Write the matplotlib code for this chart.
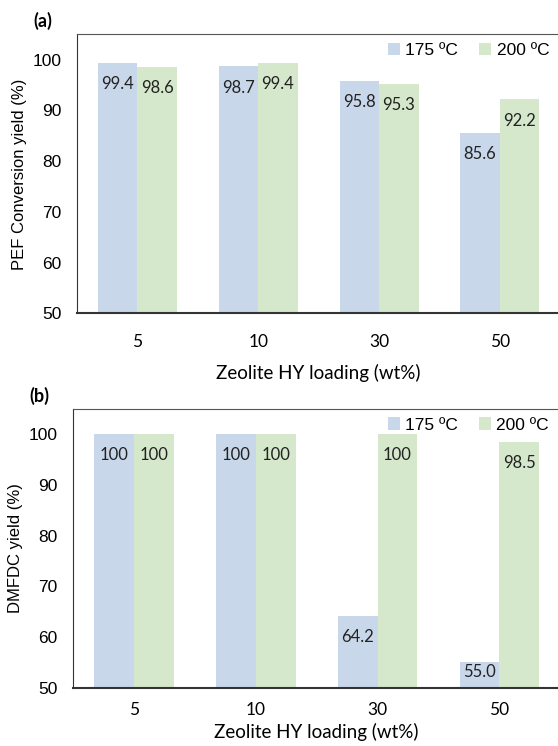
import numpy as np
import matplotlib.pyplot as plt

loadings = ['5', '10', '30', '50']
conv_175 = [99.4, 98.7, 95.8, 85.6]
conv_200 = [98.6, 99.4, 95.3, 92.2]
dmfdc_175 = [100, 100, 64.2, 55.0]
dmfdc_200 = [100, 100, 100, 98.5]
labels_a_175 = ['99.4', '98.7', '95.8', '85.6']
labels_a_200 = ['98.6', '99.4', '95.3', '92.2']
labels_b_175 = ['100', '100', '64.2', '55.0']
labels_b_200 = ['100', '100', '100', '98.5']

blue = '#c9d7ea'
green = '#d5e8cb'
calibri = ['Lato', 'DejaVu Sans']
arial = ['Liberation Sans', 'DejaVu Sans']

fig = plt.figure(figsize=(5.58, 7.46), dpi=100)
ax_a = fig.add_axes([0.138, 0.580, 0.866, 0.374])
ax_b = fig.add_axes([0.131, 0.078, 0.873, 0.374])

def panel(ax, v175, v200, l175, l200, ylabel, tag, xpad, xlpad):
    x = np.arange(len(loadings))
    w = 0.327
    ax.bar(x - w/2, v175, w, bottom=0, color=blue, label='175 ºC')
    ax.bar(x + w/2, v200, w, bottom=0, color=green, label='200 ºC')
    ax.set_ylim(50, 105)
    ax.set_xlim(-0.5, 3.5)
    for xi, v, s in zip(x - w/2, v175, l175):
        ax.text(xi, max(v - 4.2, 53.2), s, ha='center', va='center',
                fontsize=12, family=calibri, color='#222222')
    for xi, v, s in zip(x + w/2, v200, l200):
        ax.text(xi, max(v - 4.2, 53.2), s, ha='center', va='center',
                fontsize=12, family=calibri, color='#222222')
    ax.set_yticks([50, 60, 70, 80, 90, 100])
    ax.set_yticklabels(['50', '60', '70', '80', '90', '100'], family=arial, fontsize=12.5)
    ax.set_xticks(x)
    ax.set_xticklabels(loadings, family=calibri, fontsize=12.5)
    ax.tick_params(axis='x', length=0, pad=xpad)
    ax.tick_params(axis='y', length=0, pad=11)
    ax.set_ylabel(ylabel, family=arial, fontsize=12, labelpad=4)
    ax.set_xlabel('Zeolite HY loading (wt%)', family=calibri, fontsize=13.5, labelpad=xlpad)
    ax.spines['right'].set_visible(False)
    ax.spines['top'].set_color('#555555')
    ax.spines['left'].set_color('#333333')
    ax.spines['bottom'].set_color('#333333')
    ax.spines['bottom'].set_linewidth(1.5)
    ax.legend(loc='upper right', ncol=2, frameon=False,
              prop={'family': arial, 'size': 12.5}, handlelength=0.7,
              handleheight=0.7, handletextpad=0.3, columnspacing=1.2,
              borderaxespad=0.1, bbox_to_anchor=(0.995, 1.0))
    ax.text(-0.07, 1.015, tag, transform=ax.transAxes, fontsize=13,
            fontweight='bold', family=calibri, ha='center', va='bottom')

panel(ax_a, conv_175, conv_200, labels_a_175, labels_a_200,
      'PEF Conversion yield (%)', '(a)', 15, 10)
panel(ax_b, dmfdc_175, dmfdc_200, labels_b_175, labels_b_200,
      'DMFDC yield (%)', '(b)', 10, 4)

plt.savefig('out.png', dpi=100)
